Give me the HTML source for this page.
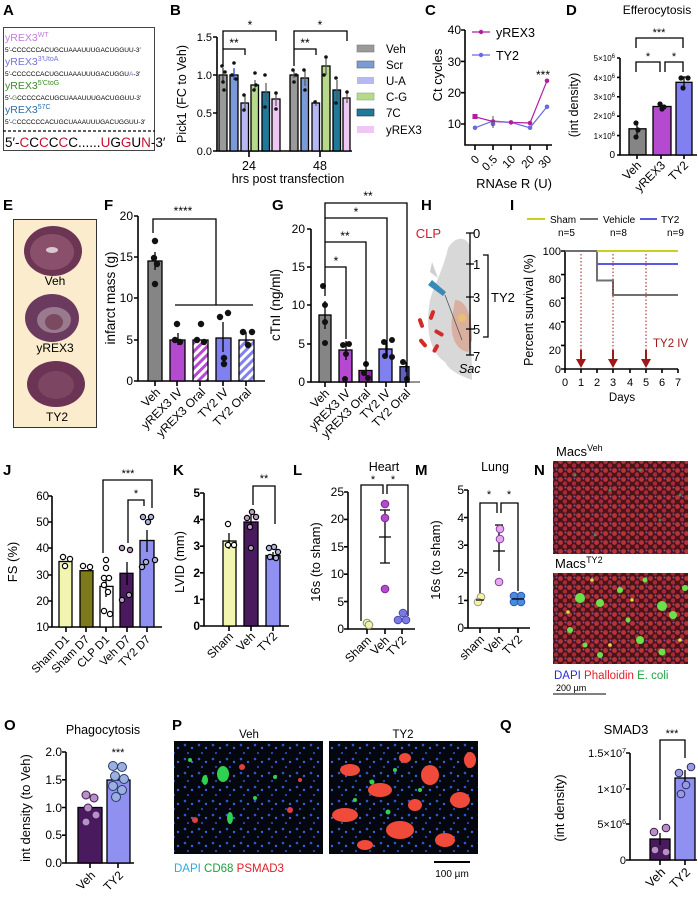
<!DOCTYPE html>
<html><head><meta charset="utf-8"><style>
html,body{margin:0;padding:0;background:#fff;}
svg{display:block;font-family:"Liberation Sans",Arial,sans-serif;}
.L{font-weight:bold;font-size:15px;}
.t{font-size:11px;}
.a{font-size:12.5px;}
.ax{stroke:#000;stroke-width:1.6;fill:none;}
.br{stroke:#000;stroke-width:1.3;fill:none;}
.bar{stroke:#000;stroke-width:1.3;}
</style></head><body>
<svg width="698" height="900" viewBox="0 0 698 900" xmlns="http://www.w3.org/2000/svg">
<defs>
<pattern id="cellsR" width="9" height="9" patternUnits="userSpaceOnUse">
<rect width="9" height="9" fill="#4a1418"/>
<circle cx="2.5" cy="2.5" r="2.4" fill="#b8333a"/><circle cx="7" cy="6.5" r="2.2" fill="#a62a3a"/><circle cx="7.5" cy="1.5" r="1" fill="#7a5aa8"/>
</pattern>
<pattern id="tissue" width="14" height="14" patternUnits="userSpaceOnUse">
<rect width="14" height="14" fill="#05070f"/>
<circle cx="3" cy="3" r="1.3" fill="#2f55c8"/><circle cx="10" cy="6" r="1.2" fill="#3a63d8"/><circle cx="6" cy="11" r="1.1" fill="#2a4bb0"/>
</pattern>
<pattern id="hatchP" width="6" height="6" patternUnits="userSpaceOnUse" patternTransform="rotate(45)"><rect width="6" height="6" fill="#fff"/><rect width="3" height="6" fill="#b44ad0"/></pattern>
<pattern id="hatchB" width="6" height="6" patternUnits="userSpaceOnUse" patternTransform="rotate(45)"><rect width="6" height="6" fill="#fff"/><rect width="3" height="6" fill="#8080f0"/></pattern>
</defs>

<!-- ===== A ===== -->
<text class="L" x="3" y="15">A</text>
<rect x="3.5" y="27.5" width="151" height="123" fill="#fff" stroke="#444" stroke-width="1"/>
<g font-size="10.5"><text x="5" y="41" fill="#c77be0">yREX3<tspan font-size="7" dy="-4">WT</tspan></text></g>
<text x="5" y="52" font-size="6.5">5′-CCCCCCACUGCUAAAUUUGACUGGUU-3′</text>
<text x="5" y="65" font-size="10.5" fill="#6f74d8">yREX3<tspan font-size="7" dy="-4">3'UtoA</tspan></text>
<text x="5" y="76" font-size="6.5">5′-CCCCCCACUGCUAAAUUUGACUGGU<tspan fill="#6f74d8">A</tspan>-3′</text>
<text x="5" y="89" font-size="10.5" fill="#3c8a2a">yREX3<tspan font-size="7" dy="-4">5'CtoG</tspan></text>
<text x="5" y="100" font-size="6.5">5′-<tspan fill="#3c8a2a">G</tspan>CCCCCACUGCUAAAUUUGACUGGUU-3′</text>
<text x="5" y="113" font-size="10.5" fill="#2d6ea8">yREX3<tspan font-size="7" dy="-4">57C</tspan></text>
<text x="5" y="124" font-size="6.5">5′-<tspan fill="#2d6ea8">C</tspan>CCCCCCACUGCUAAAUUUGACUGGUU-3′</text>
<line x1="3" y1="131" x2="155" y2="131" stroke="#000" stroke-width="1.3" stroke-dasharray="3,2"/>
<text x="5" y="147" font-size="13.5">5′-<tspan fill="#c8102e">C</tspan>C<tspan fill="#c8102e">C</tspan>C<tspan fill="#c8102e">C</tspan>C......<tspan fill="#c8102e">U</tspan>G<tspan fill="#c8102e">G</tspan>U<tspan fill="#c8102e">N</tspan>-3′</text>

<!-- ===== B ===== -->
<text class="L" x="170" y="15">B</text>
<text class="a" transform="translate(186,94) rotate(-90)" text-anchor="middle" font-size="13">Pick1 (FC to Veh)</text>
<g class="t" text-anchor="end" font-size="12"><text x="212" y="41">1.5</text><text x="212" y="79">1.0</text><text x="212" y="117">0.5</text><text x="212" y="155">0.0</text></g>
<g class="ax"><path d="M217 37V151H352"/><path d="M213 37H217M213 75H217M213 113H217M213 151H217M249 151V157M320 151V157"/></g>
<g class="bar">
<rect x="219" y="75" width="8" height="76" fill="#9a9a9a"/><rect x="230" y="75" width="8" height="76" fill="#7b9bd6"/><rect x="241" y="103" width="7.5" height="48" fill="#b7b7f2"/><rect x="251" y="85" width="7.5" height="66" fill="#b6d98a"/><rect x="262" y="92" width="7.5" height="59" fill="#1f7a99"/><rect x="272" y="99" width="8" height="52" fill="#eec8f2"/>
<rect x="290" y="75" width="8" height="76" fill="#9a9a9a"/><rect x="301" y="78" width="7.5" height="73" fill="#7b9bd6"/><rect x="312" y="103" width="7.5" height="48" fill="#b7b7f2"/><rect x="322" y="66" width="8" height="85" fill="#b6d98a"/><rect x="333" y="90" width="7.5" height="61" fill="#1f7a99"/><rect x="343" y="98" width="7" height="53" fill="#eec8f2"/>
</g>
<g stroke-width="1.2" fill="none">
<path d="M223 68V82M234 69V80" stroke="#333"/><path d="M234 68V80" stroke="#3050d0"/><path d="M245 95V110M255 80V90M266 83V101M276 93V106M294 71V78M305 71V86M316 100V106M326 56V75M337 80V100M347 93V103" stroke="#555"/>
</g>
<g fill="#111">
<circle cx="222" cy="66" r="1.8"/><circle cx="225" cy="72" r="1.8"/><circle cx="223" cy="82" r="1.8"/><circle cx="224" cy="90" r="1.8"/><circle cx="234" cy="63" r="1.8"/><circle cx="232" cy="75" r="1.8"/><circle cx="236" cy="79" r="1.8"/><circle cx="244" cy="95" r="1.8"/><circle cx="244" cy="110" r="1.8"/><circle cx="255" cy="73" r="1.8"/><circle cx="254" cy="90" r="1.8"/><circle cx="256" cy="85" r="1.8"/><circle cx="265" cy="75" r="1.8"/><circle cx="265" cy="107" r="1.8"/><circle cx="276" cy="93" r="1.8"/><circle cx="276" cy="109" r="1.8"/>
<circle cx="293" cy="70" r="1.8"/><circle cx="296" cy="75" r="1.8"/><circle cx="294" cy="82" r="1.8"/><circle cx="304" cy="70" r="1.8"/><circle cx="305" cy="90" r="1.8"/><circle cx="315" cy="102" r="1.8"/><circle cx="326" cy="57" r="1.8"/><circle cx="324" cy="75" r="1.8"/><circle cx="336" cy="78" r="1.8"/><circle cx="336" cy="103" r="1.8"/><circle cx="347" cy="92" r="1.8"/>
</g>
<g class="br"><path d="M223 51V31H276V41M223 66V49H245V55M294 51V31H347V41M294 66V49H316V55"/></g>
<g font-size="12" text-anchor="middle"><text x="250" y="29">*</text><text x="234" y="47">**</text><text x="320" y="29">*</text><text x="305" y="47">**</text></g>
<g font-size="12.5" text-anchor="middle"><text x="249" y="170">24</text><text x="320" y="170">48</text><text x="288" y="183">hrs post transfection</text></g>
<g font-size="11.5">
<rect x="357" y="45" width="17" height="7" fill="#9a9a9a" stroke="#777" stroke-width=".6"/><text x="386" y="53">Veh</text>
<rect x="357" y="61" width="17" height="7" fill="#7b9bd6" stroke="#666" stroke-width=".6"/><text x="386" y="69">Scr</text>
<rect x="357" y="77" width="17" height="7" fill="#b7b7f2"/><text x="386" y="85">U-A</text>
<rect x="357" y="93" width="17" height="7" fill="#b6d98a" stroke="#8a8" stroke-width=".6"/><text x="386" y="101">C-G</text>
<rect x="357" y="109" width="17" height="7" fill="#1f7a99" stroke="#134" stroke-width=".6"/><text x="386" y="117">7C</text>
<rect x="357" y="126" width="17" height="7" fill="#eec8f2"/><text x="386" y="134">yREX3</text>
</g>

<!-- ===== C ===== -->
<text class="L" x="425" y="15">C</text>
<text transform="translate(442,75) rotate(-90)" text-anchor="middle" font-size="13">Ct cycles</text>
<g font-size="12" text-anchor="end"><text x="461" y="34">40</text><text x="461" y="66">30</text><text x="461" y="97">20</text><text x="461" y="128">10</text></g>
<g class="ax"><path d="M465 30V145H552"/><path d="M461 30H465M461 61.4H465M461 92.7H465M461 124H465M475 145V150M493 145V150M511 145V150M530 145V150M547 145V150"/></g>
<polyline points="475,116.8 493,121.5 511,122.4 530,123 547,80.8" fill="none" stroke="#b01e9e" stroke-width="1.2"/>
<polyline points="475,127.8 493,121 511,122.4 530,127.8 547,106.8" fill="none" stroke="#6a6ae0" stroke-width="1.2"/>
<g fill="#b01e9e"><rect x="472.5" y="114" width="5" height="5"/><circle cx="493" cy="121.5" r="2.3"/><circle cx="511" cy="122.4" r="2.3"/><circle cx="530" cy="123" r="2.3"/><circle cx="547" cy="80.8" r="2.3"/></g>
<g fill="#6a6ae0"><circle cx="475" cy="127.8" r="2.3"/><circle cx="493" cy="124" r="2.3"/><circle cx="530" cy="127.8" r="2.3"/><circle cx="547" cy="106.8" r="2.3"/></g>
<path d="M493 116V128" stroke="#555" stroke-width="1"/>
<line x1="472" y1="32" x2="490" y2="32" stroke="#b01e9e" stroke-width="1.2"/><circle cx="481" cy="32" r="2.2" fill="#b01e9e"/><text x="496" y="37" font-size="12.5">yREX3</text>
<line x1="472" y1="55" x2="490" y2="55" stroke="#6a6ae0" stroke-width="1.2"/><circle cx="481" cy="55" r="2.2" fill="#6a6ae0"/><text x="496" y="60" font-size="12.5">TY2</text>
<text x="543" y="79" font-size="12" text-anchor="middle">***</text>
<g font-size="11.5" text-anchor="end">
<text transform="translate(480,160) rotate(-45)">0</text><text transform="translate(498,160) rotate(-45)">0.5</text><text transform="translate(516,160) rotate(-45)">10</text><text transform="translate(535,160) rotate(-45)">20</text><text transform="translate(552,160) rotate(-45)">30</text>
</g>
<text x="514" y="188" font-size="13" text-anchor="middle">RNAse R (U)</text>

<!-- ===== D ===== -->
<text class="L" x="566" y="15">D</text>
<text x="657" y="14" font-size="12" text-anchor="middle">Efferocytosis</text>
<text transform="translate(578,105) rotate(-90)" text-anchor="middle" font-size="12.5">(int density)</text>
<g font-size="8" text-anchor="end"><text x="615" y="61">5×10<tspan font-size="6" dy="-3">6</tspan></text><text x="615" y="81">4×10<tspan font-size="6" dy="-3">6</tspan></text><text x="615" y="100">3×10<tspan font-size="6" dy="-3">6</tspan></text><text x="615" y="119">2×10<tspan font-size="6" dy="-3">6</tspan></text><text x="615" y="139">1×10<tspan font-size="6" dy="-3">6</tspan></text><text x="615" y="158" font-size="10">0</text></g>
<g class="ax"><path d="M620 58V155H697"/><path d="M617 58H620M617 77.4H620M617 96.8H620M617 116.2H620M617 135.6H620M617 155H620M637 155V159M661 155V159M684 155V159"/></g>
<g class="bar"><rect x="629" y="128.8" width="17" height="26" fill="#858585"/><rect x="653" y="106.5" width="18" height="48.5" fill="#b44ad0"/><rect x="676" y="82.3" width="16" height="72.7" fill="#8080f0"/></g>
<path d="M637 122V136M662 103V110M684 77V88M680 77H688" stroke="#000" stroke-width="1.2"/>
<g fill="#111"><circle cx="636" cy="123" r="2.6"/><circle cx="638" cy="130" r="2.6"/><circle cx="636" cy="137" r="2.6"/><circle cx="660" cy="104" r="2.6"/><circle cx="664" cy="107" r="2.6"/><circle cx="662" cy="109" r="2.6"/><circle cx="681" cy="78" r="2.6"/><circle cx="688" cy="78" r="2.6"/><circle cx="683" cy="88" r="2.6"/></g>
<g class="br"><path d="M636 48V38H683V48M636 72V62H660V72M665 72V62H683V72"/></g>
<g font-size="11" text-anchor="middle"><text x="659" y="36">***</text><text x="648" y="60">*</text><text x="674" y="60">*</text></g>
<g font-size="12" text-anchor="end"><text transform="translate(642,166) rotate(-45)">Veh</text><text transform="translate(666,166) rotate(-45)">yREX3</text><text transform="translate(689,166) rotate(-45)">TY2</text></g>

<!-- ===== E ===== -->
<text class="L" x="3" y="210">E</text>
<rect x="13.5" y="219.5" width="83" height="208" fill="#fbeccd" stroke="#333" stroke-width="1"/>
<ellipse cx="53" cy="251" rx="29" ry="25" fill="#6d3554"/><ellipse cx="52" cy="252" rx="22" ry="18" fill="#8a4f6a"/><ellipse cx="52" cy="250" rx="6" ry="3" fill="#d8c8d0"/>
<text x="55" y="285" font-size="12" text-anchor="middle">Veh</text>
<ellipse cx="52" cy="318" rx="27" ry="24" fill="#6a3b5e"/><ellipse cx="54" cy="320" rx="17" ry="13" fill="#9a7a8e"/><ellipse cx="54" cy="322" rx="9" ry="8" fill="#7a4a60"/>
<text x="55" y="352" font-size="12" text-anchor="middle">yREX3</text>
<ellipse cx="56" cy="384" rx="29" ry="23" fill="#6b3455"/><ellipse cx="56" cy="385" rx="18" ry="14" fill="#7c4562"/>
<text x="57" y="421" font-size="12" text-anchor="middle">TY2</text>

<!-- ===== F ===== -->
<text class="L" x="104" y="210">F</text>
<text transform="translate(115,298) rotate(-90)" text-anchor="middle" font-size="13.5">infarct mass (g)</text>
<g font-size="12" text-anchor="end"><text x="133" y="220">20</text><text x="133" y="261">15</text><text x="133" y="302">10</text><text x="133" y="344">5</text><text x="133" y="385">0</text></g>
<g class="ax"><path d="M138 216V381H265"/><path d="M134 216H138M134 257H138M134 298H138M134 340H138M134 381H138M155 381V386M177 381V386M200 381V386M223 381V386M246 381V386"/></g>
<g class="bar"><rect x="148" y="261" width="14" height="120" fill="#858585"/><rect x="170" y="340" width="15" height="41" fill="#b44ad0"/><rect x="193" y="340" width="15" height="41" fill="url(#hatchP)"/><rect x="216" y="338" width="15" height="43" fill="#8080f0"/><rect x="239" y="340" width="15" height="41" fill="url(#hatchB)"/></g>
<path d="M155 252V270M178 333V345M223 322V352M246 332V346" stroke="#000" stroke-width="1.3"/>
<g fill="#111"><circle cx="155" cy="241" r="3.2"/><circle cx="154" cy="258" r="3.2"/><circle cx="157" cy="264" r="3.2"/><circle cx="155" cy="284" r="3.2"/><circle cx="177" cy="324" r="3.2"/><circle cx="175" cy="340" r="3.2"/><circle cx="180" cy="342" r="3.2"/><circle cx="201" cy="324" r="3.2"/><circle cx="197" cy="340" r="3.2"/><circle cx="204" cy="342" r="3.2"/><circle cx="220" cy="317" r="3.2"/><circle cx="228" cy="313" r="3.2"/><circle cx="224" cy="358" r="3.2"/><circle cx="224" cy="364" r="3.2"/><circle cx="243" cy="332" r="3.2"/><circle cx="252" cy="332" r="3.2"/><circle cx="248" cy="345" r="3.2"/></g>
<g class="br"><path d="M153 233V219H216V305M175 305H253"/></g>
<text x="183" y="215" font-size="12" text-anchor="middle">****</text>
<g font-size="12" text-anchor="end">
<text transform="translate(161,393) rotate(-45)">Veh</text><text transform="translate(183,393) rotate(-45)">yREX3 IV</text><text transform="translate(206,393) rotate(-45)">yREX3 Oral</text><text transform="translate(229,393) rotate(-45)">TY2 IV</text><text transform="translate(252,393) rotate(-45)">TY2 Oral</text>
</g>

<!-- ===== G ===== -->
<text class="L" x="272" y="210">G</text>
<text transform="translate(280,305) rotate(-90)" text-anchor="middle" font-size="13.5">cTnI (ng/ml)</text>
<g font-size="12" text-anchor="end"><text x="305" y="233">20</text><text x="305" y="271">15</text><text x="305" y="309">10</text><text x="305" y="348">5</text><text x="305" y="386">0</text></g>
<g class="ax"><path d="M311 229V382H420"/><path d="M307 229H311M307 267H311M307 305H311M307 344H311M307 382H311M325 382V387M346 382V387M366 382V387M386 382V387M406 382V387"/></g>
<line x1="409" y1="382" x2="420" y2="382" stroke="#999" stroke-width="1.6"/>
<g class="bar"><rect x="319" y="315" width="12" height="67" fill="#858585"/><rect x="339" y="350" width="13" height="32" fill="#b44ad0"/><rect x="359" y="370.5" width="13" height="11.5" fill="#8a2aa0"/><rect x="379" y="349" width="13" height="33" fill="#8080f0"/><rect x="400" y="366.7" width="9" height="15.3" fill="#6060c0"/></g>
<path d="M325 301V329M346 341V360M366 365V376M386 341V357M406 362V372" stroke="#000" stroke-width="1.3"/>
<g fill="#111"><circle cx="323" cy="286" r="3"/><circle cx="325" cy="305" r="3"/><circle cx="325" cy="322" r="3"/><circle cx="325" cy="343" r="3"/><circle cx="343" cy="345" r="3"/><circle cx="349" cy="344" r="3"/><circle cx="346" cy="354" r="3"/><circle cx="345" cy="379" r="3"/><circle cx="366" cy="364" r="3"/><circle cx="364" cy="373" r="3"/><circle cx="368" cy="378" r="3"/><circle cx="384" cy="342" r="3"/><circle cx="392" cy="340" r="3"/><circle cx="385" cy="356" r="3"/><circle cx="392" cy="357" r="3"/><circle cx="403" cy="362" r="3"/><circle cx="407" cy="379" r="3"/></g>
<g class="br"><path d="M325 296V203H407V380M325 296V218H387V356M325 296V242H366V366M325 296V267H346V339"/></g>
<g font-size="12" text-anchor="middle"><text x="368" y="200">**</text><text x="356" y="216">*</text><text x="345" y="240">**</text><text x="336" y="265">*</text></g>
<g font-size="12" text-anchor="end">
<text transform="translate(330,394) rotate(-45)">Veh</text><text transform="translate(351,394) rotate(-45)">yREX3 IV</text><text transform="translate(371,394) rotate(-45)">yREX3 Oral</text><text transform="translate(391,394) rotate(-45)">TY2 IV</text><text transform="translate(411,394) rotate(-45)">TY2 Oral</text>
</g>

<!-- ===== H ===== -->
<text class="L" x="421" y="210">H</text>
<path d="M448 248C455 236 466 236 470 246L472 380C462 376 450 372 445 362C430 352 425 330 430 300C434 285 444 268 448 248Z" fill="#d8d8d8"/>
<path d="M432 262L430 272L438 278Z" fill="#cfcfcf"/>
<path d="M455 300C468 300 472 320 472 340L468 352C455 350 450 335 452 318Z" fill="#d9b0a0"/>
<circle cx="462" cy="318" r="4" fill="#e8c070"/>
<path d="M428 285L443 296L446 292L432 280Z" fill="#3a8ab8"/><line x1="445" y1="295" x2="462" y2="340" stroke="#555" stroke-width="0.8"/>
<g fill="#d42a2a"><rect x="419" y="318" width="4" height="10" rx="2" transform="rotate(-20 421 323)"/><rect x="430" y="310" width="4" height="10" rx="2" transform="rotate(20 432 315)"/><rect x="437" y="328" width="4" height="10" rx="2" transform="rotate(-60 439 333)"/><rect x="421" y="338" width="4" height="10" rx="2" transform="rotate(-40 423 343)"/><rect x="434" y="344" width="4" height="9" rx="2" transform="rotate(30 436 348)"/></g>
<text x="441" y="238" font-size="13" fill="#c8202e" text-anchor="end">CLP</text>
<path d="M470 233V355" stroke="#000" stroke-width="1.3"/>
<path d="M466 233H474M466 264H474M466 297H474M466 329H474M466 355H474" stroke="#000" stroke-width="1.3"/>
<g font-size="13"><text x="473" y="238">0</text><text x="473" y="269">1</text><text x="473" y="302">3</text><text x="473" y="334">5</text><text x="473" y="361">7</text></g>
<path d="M483 255H488V337H483" class="br"/>
<text x="491" y="302" font-size="13">TY2</text>
<text x="459" y="373" font-size="12.5" font-style="italic">Sac</text>

<!-- ===== I ===== -->
<text class="L" x="510" y="210">I</text>
<line x1="527" y1="219" x2="545" y2="219" stroke="#c8cf20" stroke-width="2"/><text x="550" y="223" font-size="10">Sham</text>
<line x1="580" y1="219" x2="598" y2="219" stroke="#707070" stroke-width="2"/><text x="603" y="223" font-size="10">Vehicle</text>
<line x1="640" y1="219" x2="657" y2="219" stroke="#5a5ae0" stroke-width="2"/><text x="661" y="223" font-size="10">TY2</text>
<g font-size="10"><text x="558" y="236">n=5</text><text x="610" y="236">n=8</text><text x="667" y="236">n=9</text></g>
<text transform="translate(533,310) rotate(-90)" text-anchor="middle" font-size="12.5">Percent survival (%)</text>
<g font-size="11" text-anchor="end"><text x="561" y="255">100</text><text x="561" y="283">80</text><text x="561" y="307">60</text><text x="561" y="330">40</text><text x="561" y="354">20</text><text x="561" y="373">0</text></g>
<g class="ax"><path d="M565 251V369H678"/><path d="M561 251H565M561 274.6H565M561 298.2H565M561 321.8H565M561 345.4H565M561 369H565M565 369V373M581 369V373M597 369V373M613 369V373M630 369V373M646 369V373M662 369V373M678 369V373"/></g>
<g font-size="11" text-anchor="middle"><text x="565" y="386">0</text><text x="581" y="386">1</text><text x="597" y="386">2</text><text x="613" y="386">3</text><text x="630" y="386">4</text><text x="646" y="386">5</text><text x="662" y="386">6</text><text x="678" y="386">7</text></g>
<text x="622" y="401" font-size="11.5" text-anchor="middle">Days</text>
<path d="M565 251H597V280.5H613V295H678" fill="none" stroke="#707070" stroke-width="2"/>
<path d="M597 264H678" stroke="#5a5ae0" stroke-width="2"/>
<path d="M597 251H678" stroke="#c8cf20" stroke-width="2"/>
<g stroke="#a01818" stroke-width="1" stroke-dasharray="1.5,2"><path d="M581 254V360M613 254V360M646 254V360"/></g>
<g fill="#a01818"><path d="M576 359H586L581 368Z M608 359H618L613 368Z M641 359H651L646 368Z"/><rect x="580" y="350" width="2" height="10"/><rect x="612" y="350" width="2" height="10"/><rect x="645" y="350" width="2" height="10"/></g>
<text x="653" y="347" font-size="11.5" fill="#a01818">TY2 IV</text>

<!-- ===== J ===== -->
<text class="L" x="3" y="475">J</text>
<text transform="translate(17,562) rotate(-90)" text-anchor="middle" font-size="13">FS (%)</text>
<g font-size="11.5" text-anchor="end"><text x="49" y="500">60</text><text x="49" y="526">50</text><text x="49" y="552">40</text><text x="49" y="579">30</text><text x="49" y="605">20</text><text x="49" y="631">10</text></g>
<g class="ax"><path d="M52 496V627H162"/><path d="M48 496H52M48 522H52M48 548H52M48 575H52M48 601H52M48 627H52M66 627V632M86 627V632M106 627V632M127 627V632M147 627V632"/></g>
<g class="bar"><rect x="59" y="561.5" width="13" height="65.5" fill="#f2f5b0"/><rect x="80" y="570.7" width="13" height="56.3" fill="#7d7a1a"/><rect x="100" y="586.4" width="13" height="40.6" fill="#fff"/><rect x="120" y="573.3" width="13" height="53.7" fill="#4a1a5e"/><rect x="140" y="540.5" width="14" height="86.5" fill="#9090f0"/></g>
<path d="M106 576V597M127 562V585M147 530V552" stroke="#000" stroke-width="1.3"/>
<g fill="#fff" stroke="#000" stroke-width="1.2"><circle cx="63" cy="557" r="2.6"/><circle cx="70" cy="559" r="2.6"/><circle cx="65" cy="566" r="2.6"/><circle cx="83" cy="566" r="2.6"/><circle cx="90" cy="567" r="2.6"/><circle cx="106" cy="560" r="2.6"/><circle cx="106" cy="568" r="2.6"/><circle cx="104" cy="578" r="2.6"/><circle cx="109" cy="578" r="2.6"/><circle cx="104" cy="585" r="2.6"/><circle cx="108" cy="592" r="2.6"/><circle cx="104" cy="611" r="2.6"/><circle cx="110" cy="614" r="2.6"/></g>
<g fill="#c0a0c8" stroke="#000" stroke-width="1.2"><circle cx="122" cy="548" r="2.6"/><circle cx="130" cy="550" r="2.6"/><circle cx="129" cy="595" r="2.6"/><circle cx="122" cy="600" r="2.6"/></g>
<g fill="#b0b8e0" stroke="#000" stroke-width="1.2"><circle cx="143" cy="517" r="2.6"/><circle cx="151" cy="517" r="2.6"/><circle cx="148" cy="522" r="2.6"/><circle cx="146" cy="562" r="2.6"/><circle cx="155" cy="560" r="2.6"/><circle cx="142" cy="567" r="2.6"/></g>
<g class="br"><path d="M103 553V480H152V508M128 543V500H144V506"/></g>
<g font-size="11" text-anchor="middle"><text x="128" y="477">***</text><text x="136" y="497">*</text></g>
<g font-size="11.5" text-anchor="end">
<text transform="translate(70,640) rotate(-45)">Sham D1</text><text transform="translate(90,640) rotate(-45)">Sham D7</text><text transform="translate(110,640) rotate(-45)">CLP D1</text><text transform="translate(131,640) rotate(-45)">Veh D7</text><text transform="translate(151,640) rotate(-45)">TY2  D7</text>
</g>

<!-- ===== K ===== -->
<text class="L" x="173" y="475">K</text>
<text transform="translate(184,562) rotate(-90)" text-anchor="middle" font-size="13">LVID (mm)</text>
<g font-size="12" text-anchor="end" font-weight="bold"><text x="200" y="497">5</text><text x="200" y="524">4</text><text x="200" y="550">3</text><text x="200" y="577">2</text><text x="200" y="604">1</text><text x="200" y="630">0</text></g>
<g class="ax"><path d="M204 493V626H289"/><path d="M200 493H204M200 519.6H204M200 546.2H204M200 572.8H204M200 599.4H204M200 626H204M229 626V631M251 626V631M273 626V631"/></g>
<g class="bar"><rect x="223" y="541" width="13" height="85" fill="#f2f5b0"/><rect x="244" y="522" width="14" height="104" fill="#4a1a5e"/><rect x="266" y="555.5" width="14" height="70.5" fill="#9090f0"/></g>
<path d="M229 533V549M251 515V530M273 552V560" stroke="#000" stroke-width="1.3"/>
<g fill="#fff" stroke="#000" stroke-width="1.2"><circle cx="228" cy="524" r="2.6"/><circle cx="228" cy="545" r="2.6"/><circle cx="234" cy="545" r="2.6"/></g>
<g fill="#c0a0c8" stroke="#000" stroke-width="1.2"><circle cx="252" cy="512" r="2.6"/><circle cx="247" cy="518" r="2.6"/><circle cx="256" cy="517" r="2.6"/><circle cx="250" cy="527" r="2.6"/><circle cx="251" cy="548" r="2.6"/></g>
<g fill="#b0b8e0" stroke="#000" stroke-width="1.2"><circle cx="269" cy="548" r="2.6"/><circle cx="274" cy="547" r="2.6"/><circle cx="278" cy="552" r="2.6"/><circle cx="270" cy="557" r="2.6"/><circle cx="276" cy="558" r="2.6"/></g>
<g class="br"><path d="M253 505V486H275V524"/></g>
<text x="264" y="482" font-size="11" text-anchor="middle">**</text>
<g font-size="12" text-anchor="end"><text transform="translate(234,637) rotate(-45)">Sham</text><text transform="translate(256,637) rotate(-45)">Veh</text><text transform="translate(278,637) rotate(-45)">TY2</text></g>

<!-- ===== L ===== -->
<text class="L" x="293" y="475">L</text>
<text x="384" y="471" font-size="12.5" text-anchor="middle">Heart</text>
<text transform="translate(320,562) rotate(-90)" text-anchor="middle" font-size="13">16s (to sham)</text>
<g font-size="12" text-anchor="end"><text x="344" y="496">25</text><text x="344" y="523">20</text><text x="344" y="551">15</text><text x="344" y="578">10</text><text x="344" y="606">5</text><text x="344" y="633">0</text></g>
<g class="ax"><path d="M348 492V629H415"/><path d="M344 492H348M344 519.4H348M344 546.8H348M344 574.2H348M344 601.6H348M344 629H348M367 629V634M385 629V634M402 629V634"/></g>
<g class="br"><path d="M361 621V485H383V494M387 494V485H408V616"/></g>
<g font-size="11" text-anchor="middle"><text x="373" y="483">*</text><text x="393" y="483">*</text></g>
<path d="M385 510V563M380 510H390M379 537H391M380 563H390" stroke="#000" stroke-width="1.3"/>
<g fill="#b44ad0" stroke="#7a2a90" stroke-width="1"><circle cx="385" cy="504" r="3.8"/><circle cx="385" cy="518" r="3.8"/><circle cx="385" cy="589" r="3.8"/></g>
<g fill="#f5f2b0" stroke="#888" stroke-width="1"><circle cx="367" cy="623" r="3.8"/><circle cx="369" cy="625" r="3.8"/></g>
<g fill="#7a7ae0" stroke="#4a4ab0" stroke-width="1"><circle cx="403" cy="613" r="3.8"/><circle cx="398" cy="620" r="3.8"/><circle cx="406" cy="620" r="3.8"/></g>
<g font-size="12" text-anchor="end"><text transform="translate(372,641) rotate(-45)">Sham</text><text transform="translate(390,641) rotate(-45)">Veh</text><text transform="translate(407,641) rotate(-45)">TY2</text></g>

<!-- ===== M ===== -->
<text class="L" x="415" y="475">M</text>
<text x="495" y="471" font-size="12.5" text-anchor="middle">Lung</text>
<text transform="translate(440,560) rotate(-90)" text-anchor="middle" font-size="13">16s (to sham)</text>
<g font-size="12" text-anchor="end"><text x="464" y="494">5</text><text x="464" y="522">4</text><text x="464" y="549">3</text><text x="464" y="577">2</text><text x="464" y="604">1</text><text x="464" y="632">0</text></g>
<g class="ax"><path d="M468 490V628H530"/><path d="M464 490H468M464 517.6H468M464 545.2H468M464 572.8H468M464 600.4H468M464 628H468M480 628V633M499 628V633M518 628V633"/></g>
<g class="br"><path d="M480 595V503H497V513M501 513V503H518V591"/></g>
<g font-size="11" text-anchor="middle"><text x="489" y="498">*</text><text x="509" y="498">*</text></g>
<path d="M499 525V571M495 525H503M493 551H505" stroke="#000" stroke-width="1.3"/>
<g fill="#e4a8ec" stroke="#8a3aa0" stroke-width="1"><circle cx="500" cy="529" r="3.8"/><circle cx="500" cy="539" r="3.8"/><circle cx="499" cy="582" r="3.8"/></g>
<g fill="#f5f2a0" stroke="#999" stroke-width="1"><circle cx="481" cy="597" r="3.8"/><circle cx="478" cy="602" r="3.8"/></g>
<g fill="#4a8ae0" stroke="#2a5ab0" stroke-width="1"><circle cx="514" cy="596" r="3.8"/><circle cx="521" cy="596" r="3.8"/><circle cx="514" cy="602" r="3.8"/><circle cx="521" cy="602" r="3.8"/></g>
<path d="M476 600H484M512 599H524" stroke="#000" stroke-width="1.2"/>
<g font-size="12" text-anchor="end"><text transform="translate(485,640) rotate(-45)">sham</text><text transform="translate(504,640) rotate(-45)">Veh</text><text transform="translate(523,640) rotate(-45)">TY2</text></g>

<!-- ===== N ===== -->
<text class="L" x="534" y="475">N</text>
<text x="556" y="456" font-size="13">Macs<tspan font-size="9" dy="-5">Veh</tspan></text>
<rect x="553" y="461" width="135" height="93" fill="url(#cellsR)"/>
<g fill="#3aa060" opacity="0.8"><circle cx="575" cy="475" r="1.5"/><circle cx="610" cy="490" r="1.5"/><circle cx="640" cy="470" r="1.5"/><circle cx="660" cy="520" r="1.5"/><circle cx="595" cy="535" r="1.5"/><circle cx="680" cy="495" r="1.5"/></g>
<text x="555" y="568" font-size="13">Macs<tspan font-size="9" dy="-5">TY2</tspan></text>
<rect x="553" y="573" width="135" height="91" fill="url(#cellsR)"/>
<g fill="#6be04a"><circle cx="580" cy="598" r="5"/><circle cx="600" cy="603" r="4"/><circle cx="620" cy="590" r="3"/><circle cx="662" cy="606" r="5"/><circle cx="673" cy="615" r="4"/><circle cx="570" cy="630" r="3"/><circle cx="640" cy="640" r="4"/><circle cx="662" cy="652" r="3.5"/><circle cx="685" cy="588" r="3"/><circle cx="600" cy="655" r="3"/><circle cx="628" cy="620" r="2.5"/><circle cx="585" cy="645" r="2.5"/><circle cx="645" cy="580" r="2.5"/></g>
<g fill="#d8e040"><circle cx="592" cy="580" r="1.8"/><circle cx="632" cy="600" r="1.8"/><circle cx="610" cy="645" r="1.8"/><circle cx="680" cy="640" r="1.8"/><circle cx="568" cy="612" r="1.8"/></g>
<text x="554" y="679" font-size="11.5"><tspan fill="#2a2ad0">DAPI</tspan> <tspan fill="#e0202a">Phalloidin</tspan> <tspan fill="#20a040">E. coli</tspan></text>
<text x="556" y="691" font-size="9">200 µm</text><line x1="553" y1="694" x2="606" y2="694" stroke="#000" stroke-width="1"/>

<!-- ===== O ===== -->
<text class="L" x="4" y="730">O</text>
<text x="103" y="734" font-size="12.5" text-anchor="middle">Phagocytosis</text>
<text transform="translate(30,808) rotate(-90)" text-anchor="middle" font-size="13">int density (to Veh)</text>
<g font-size="12" text-anchor="end"><text x="62" y="756">2.0</text><text x="62" y="784">1.5</text><text x="62" y="812">1.0</text><text x="62" y="839">0.5</text><text x="62" y="867">0.0</text></g>
<g class="ax"><path d="M66 752V863H134"/><path d="M62 752H66M62 779.8H66M62 807.5H66M62 835.2H66M62 863H66M90 863V868M118 863V868"/></g>
<g class="bar"><rect x="78" y="807.5" width="24" height="55.5" fill="#4a1a5e"/><rect x="107" y="780" width="23" height="83" fill="#9090f0"/></g>
<g fill="#b890c8" stroke="#3a1a4a" stroke-width="1"><circle cx="86" cy="795" r="4"/><circle cx="94" cy="798" r="4"/><circle cx="88" cy="808" r="4"/><circle cx="96" cy="815" r="4"/><circle cx="86" cy="822" r="4"/></g>
<g fill="#9ab0e0" stroke="#2a3a6a" stroke-width="1"><circle cx="113" cy="766" r="4.5"/><circle cx="122" cy="767" r="4.5"/><circle cx="115" cy="776" r="4.5"/><circle cx="124" cy="779" r="4.5"/><circle cx="113" cy="786" r="4.5"/><circle cx="122" cy="790" r="4.5"/><circle cx="116" cy="797" r="4.5"/></g>
<text x="118" y="756" font-size="11" text-anchor="middle">***</text>
<g font-size="12" text-anchor="end"><text transform="translate(96,876) rotate(-45)">Veh</text><text transform="translate(124,876) rotate(-45)">TY2</text></g>

<!-- ===== P ===== -->
<text class="L" x="172" y="730">P</text>
<text x="249" y="738" font-size="11.5" text-anchor="middle">Veh</text>
<text x="403" y="738" font-size="11.5" text-anchor="middle">TY2</text>
<rect x="174" y="741" width="149" height="113" fill="url(#tissue)"/>
<g fill="#30d050"><ellipse cx="223" cy="774" rx="6" ry="8"/><ellipse cx="205" cy="780" rx="3" ry="5"/><ellipse cx="230" cy="818" rx="3" ry="6"/><circle cx="255" cy="798" r="2"/><circle cx="275" cy="777" r="2"/><circle cx="190" cy="760" r="2"/></g>
<g fill="#e04040"><circle cx="195" cy="820" r="3"/><circle cx="242" cy="767" r="3"/><circle cx="290" cy="810" r="3"/><circle cx="300" cy="780" r="2"/></g>
<rect x="329" y="741" width="149" height="113" fill="url(#tissue)"/>
<g fill="#f04a3a"><ellipse cx="350" cy="770" rx="10" ry="6"/><ellipse cx="380" cy="790" rx="12" ry="7"/><ellipse cx="430" cy="775" rx="9" ry="10"/><ellipse cx="460" cy="800" rx="10" ry="8"/><ellipse cx="345" cy="815" rx="13" ry="7"/><ellipse cx="400" cy="830" rx="14" ry="9"/><ellipse cx="445" cy="840" rx="10" ry="7"/><ellipse cx="415" cy="805" rx="7" ry="6"/><ellipse cx="470" cy="760" rx="6" ry="8"/><ellipse cx="365" cy="845" rx="8" ry="5"/><ellipse cx="405" cy="758" rx="6" ry="5"/></g>
<g fill="#30d050"><circle cx="372" cy="782" r="2.5"/><circle cx="395" cy="770" r="2"/><circle cx="388" cy="812" r="2.5"/><circle cx="420" cy="790" r="2"/><circle cx="355" cy="800" r="2"/></g>
<text x="174" y="872" font-size="11.5"><tspan fill="#30a8e0">DAPI</tspan> <tspan fill="#20a040">CD68</tspan> <tspan fill="#e0202a">PSMAD3</tspan></text>
<line x1="434" y1="862" x2="470" y2="862" stroke="#000" stroke-width="2"/>
<text x="452" y="877" font-size="10" text-anchor="middle">100 µm</text>

<!-- ===== Q ===== -->
<text class="L" x="500" y="730">Q</text>
<text x="626" y="734" font-size="13" text-anchor="middle">SMAD3</text>
<text transform="translate(564,808) rotate(-90)" text-anchor="middle" font-size="13">(int density)</text>
<g font-size="11" text-anchor="end"><text x="626" y="757">1.5×10<tspan font-size="7" dy="-4">7</tspan></text><text x="626" y="793">1×10<tspan font-size="7" dy="-4">7</tspan></text><text x="626" y="828">5×10<tspan font-size="7" dy="-4">6</tspan></text><text x="626" y="864">0</text></g>
<g class="ax"><path d="M630 753V860H697"/><path d="M626 753H630M626 789H630M626 824H630M626 860H630M660 860V865M685 860V865"/></g>
<g class="bar"><rect x="650" y="839" width="20" height="21" fill="#4a1a5e"/><rect x="675" y="778" width="20" height="82" fill="#9090f0"/></g>
<path d="M660 833V845M685 770V786" stroke="#000" stroke-width="1.3"/>
<g fill="#b890c8" stroke="#3a1a4a" stroke-width="1"><circle cx="654" cy="832" r="3.8"/><circle cx="666" cy="828" r="3.8"/><circle cx="655" cy="850" r="3.8"/><circle cx="666" cy="852" r="3.8"/></g>
<g fill="#9a9ae0" stroke="#2a2a6a" stroke-width="1"><circle cx="679" cy="773" r="3.8"/><circle cx="691" cy="767" r="3.8"/><circle cx="686" cy="785" r="3.8"/><circle cx="681" cy="794" r="3.8"/></g>
<g class="br"><path d="M660 820V740H685V758"/></g>
<text x="672" y="737" font-size="11" text-anchor="middle">***</text>
<g font-size="12.5" text-anchor="end"><text transform="translate(666,873) rotate(-45)">Veh</text><text transform="translate(691,873) rotate(-45)">TY2</text></g>
</svg>
</body></html>
